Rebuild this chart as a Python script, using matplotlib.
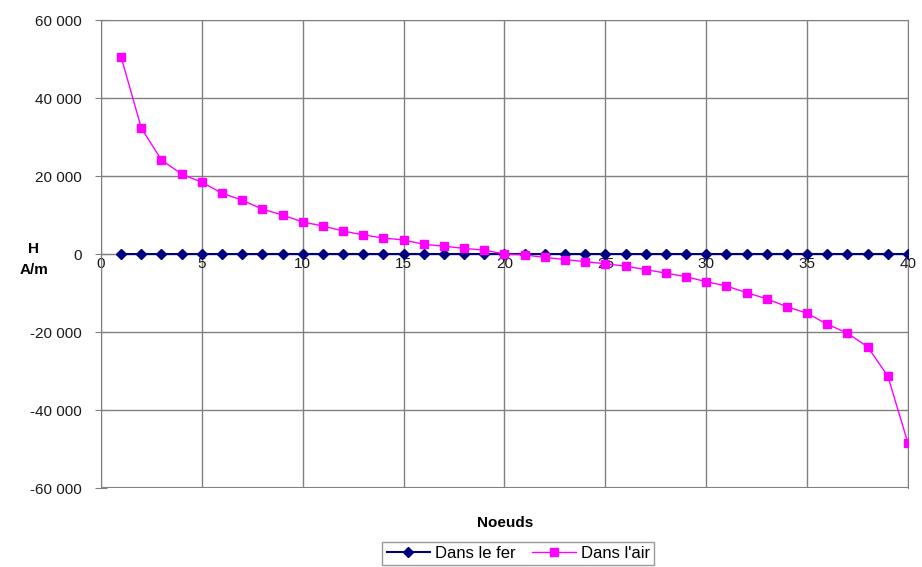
import matplotlib.pyplot as plt
from matplotlib.ticker import FuncFormatter

plt.rcParams['font.family'] = ['Liberation Sans', 'DejaVu Sans']

# nodes 1..40
noeuds = list(range(1, 41))

# H in iron (practically zero)
dans_le_fer = [0] * 40

# H in air (A/m)
dans_l_air = [50500, 32300, 24100, 20500, 18400, 15600, 13800, 11500, 10000, 8200,
              7200, 5900, 4900, 4100, 3600, 2500, 2000, 1450, 1000, 0,
              -250, -850, -1450, -1950, -2500, -3100, -4000, -4900, -5800, -7100,
              -8200, -9900, -11500, -13500, -15200, -18000, -20300, -23800, -31300, -48500]

fig = plt.figure(figsize=(9.22, 5.67), dpi=100)
ax = fig.add_axes([0.1095, 0.1393, 0.8753, 0.8254])

ax.plot(noeuds, dans_le_fer, label="Dans le fer", marker='D', color='#000080',
        markersize=5, linewidth=1.5, zorder=3)
ax.plot(noeuds, dans_l_air, label="Dans l'air", marker='s', color='#FF00FF',
        markersize=6, linewidth=1, zorder=4)

ax.set_xlim(0, 40)
ax.set_ylim(-60000, 60000)
ax.set_xticks(range(0, 41, 5))
ax.set_yticks(range(-60000, 60001, 20000))
ax.yaxis.set_major_formatter(FuncFormatter(lambda v, p: f"{int(v):,}".replace(",", " ")))

# excel style grid
ax.grid(True, color='#808080', linewidth=1)
ax.set_axisbelow(True)
ax.axhline(-60000, color='#808080', linewidth=1.5, zorder=0.5)
for s in ['top', 'right', 'left']:
    ax.spines[s].set_color('#808080')
ax.spines['bottom'].set_position(('data', 0))
ax.spines['bottom'].set_color('#808080')

ax.tick_params(axis='both', direction='inout', length=8, color='#808080',
               labelsize=11, labelcolor='#1a1a1a')
ax.tick_params(axis='y', pad=10)
ax.tick_params(axis='x', pad=-2)

ax.set_ylabel("H\nA/m", rotation=0, fontsize=11, fontweight='bold', va='center',
              linespacing=1.7)
ax.yaxis.set_label_coords(-0.083, 0.488)
fig.text(0.548, 0.077, "Noeuds", ha='center', va='center', fontsize=11, fontweight='bold')

leg = fig.legend(loc='lower center', bbox_to_anchor=(0.562, -0.012), ncol=2, fontsize=12,
                 frameon=True, fancybox=False, edgecolor='#808080',
                 handlelength=2.6, columnspacing=1.0, handletextpad=0.3, borderpad=0.25)

fig.savefig("out.png", dpi=100)
